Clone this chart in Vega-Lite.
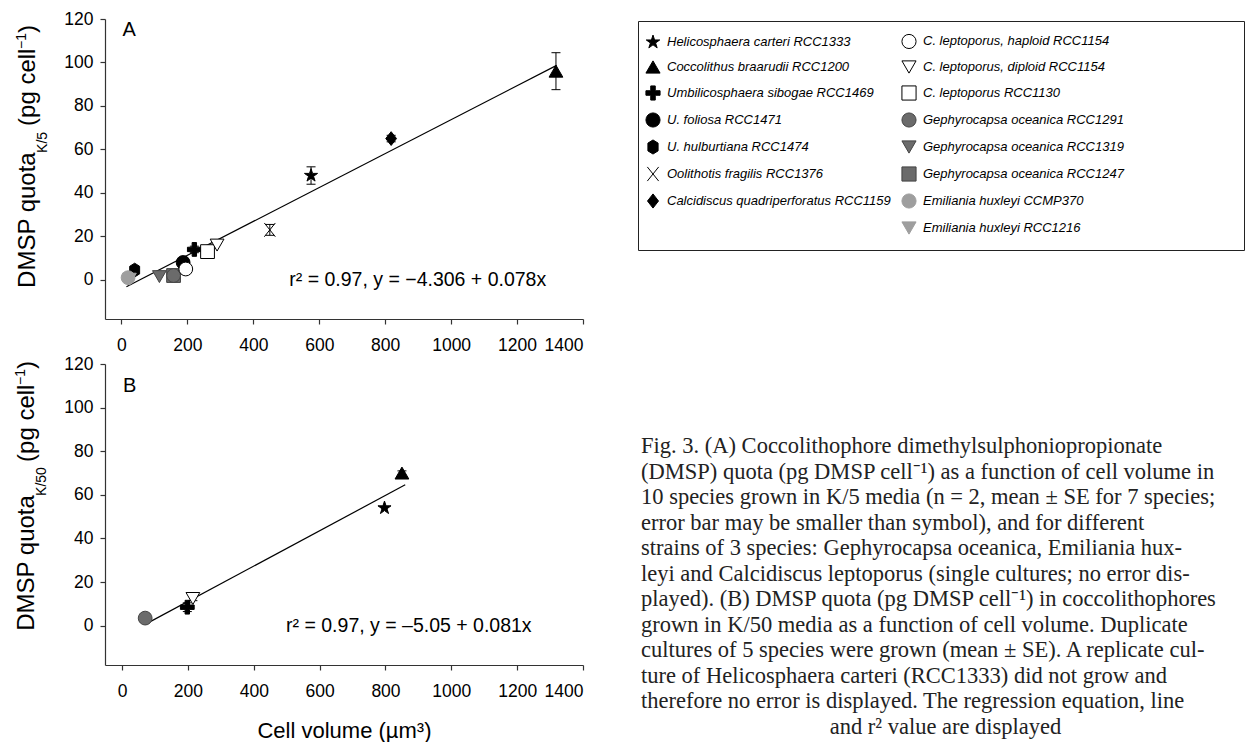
{
  "$schema": "https://vega.github.io/schema/vega-lite/v6.json",
  "background": "white",
  "padding": {"left": 14, "top": 10, "right": 0, "bottom": 0},
  "spacing": 1,
  "datasets": {
    "ptsA": [
      {"strain": "U. hulburtiana RCC1474", "volume": 40, "dmsp": 4.5},
      {"strain": "Emiliania huxleyi RCC1216", "volume": 24, "dmsp": 0.3},
      {"strain": "Emiliania huxleyi CCMP370", "volume": 20, "dmsp": 1},
      {"strain": "Gephyrocapsa oceanica RCC1247", "volume": 158, "dmsp": 2},
      {"strain": "Gephyrocapsa oceanica RCC1319", "volume": 115, "dmsp": 1.5},
      {"strain": "Gephyrocapsa oceanica RCC1291", "volume": 158, "dmsp": 2},
      {"strain": "U. foliosa RCC1471", "volume": 187, "dmsp": 8},
      {"strain": "C. leptoporus, haploid RCC1154", "volume": 195, "dmsp": 5},
      {"strain": "Umbilicosphaera sibogae RCC1469", "volume": 221, "dmsp": 14, "lo": 12.5, "hi": 15.5},
      {"strain": "C. leptoporus RCC1130", "volume": 261, "dmsp": 13},
      {"strain": "C. leptoporus, diploid RCC1154", "volume": 290, "dmsp": 16},
      {"strain": "Oolithotis fragilis RCC1376", "volume": 450, "dmsp": 23, "lo": 20.5, "hi": 25.5},
      {"strain": "Helicosphaera carteri RCC1333", "volume": 575, "dmsp": 48, "lo": 44, "hi": 52},
      {"strain": "Calcidiscus quadriperforatus RCC1159", "volume": 818, "dmsp": 65, "lo": 63.5, "hi": 66.5},
      {"strain": "Coccolithus braarudii RCC1200", "volume": 1318, "dmsp": 96, "lo": 87.5, "hi": 104.5}
    ],
    "ptsB": [
      {"strain": "Gephyrocapsa oceanica RCC1291", "volume": 70, "dmsp": 3.5},
      {"strain": "Umbilicosphaera sibogae RCC1469", "volume": 198, "dmsp": 8.5, "lo": 6.5, "hi": 10.5},
      {"strain": "C. leptoporus, diploid RCC1154", "volume": 215, "dmsp": 12.5, "lo": 11.5, "hi": 14},
      {"strain": "Helicosphaera carteri RCC1333", "volume": 797, "dmsp": 54},
      {"strain": "Coccolithus braarudii RCC1200", "volume": 850, "dmsp": 70, "lo": 69, "hi": 71}
    ],
    "fitA": [{"volume": 15, "dmsp": -3.136}, {"volume": 1320, "dmsp": 98.654}],
    "fitB": [{"volume": 70, "dmsp": 0.62}, {"volume": 860, "dmsp": 64.61}],
    "caption": [
      {"line": 1, "text": "Fig. 3. (A) Coccolithophore dimethylsulphoniopropionate"},
      {"line": 2, "text": "(DMSP) quota (pg DMSP cell⁻¹) as a function of cell volume in"},
      {"line": 3, "text": "10 species grown in K/5 media (n = 2, mean ± SE for 7 species;"},
      {"line": 4, "text": "error bar may be smaller than symbol), and for different"},
      {"line": 5, "text": "strains of 3 species: Gephyrocapsa oceanica, Emiliania hux-"},
      {"line": 6, "text": "leyi and Calcidiscus leptoporus (single cultures; no error dis-"},
      {"line": 7, "text": "played). (B) DMSP quota (pg DMSP cell⁻¹) in coccolithophores"},
      {"line": 8, "text": "grown in K/50 media as a function of cell volume. Duplicate"},
      {"line": 9, "text": "cultures of 5 species were grown (mean ± SE). A replicate cul-"},
      {"line": 10, "text": "ture of Helicosphaera carteri (RCC1333) did not grow and"},
      {"line": 11, "text": "therefore no error is displayed. The regression equation, line"},
      {"line": 12, "text": "and r² value are displayed"}
    ]
  },
  "vconcat": [
    {
      "width": 478,
      "height": 300,
      "layer": [
        {
          "data": {"name": "fitA"},
          "mark": {"type": "line", "color": "black", "strokeWidth": 1.2},
          "encoding": {
            "x": {"field": "volume", "type": "quantitative", "scale": {"domain": [-50, 1400], "nice": false, "zero": false},
                  "axis": {"values": [0, 200, 400, 600, 800, 1000, 1200, 1400], "format": "d", "title": null, "labelOverlap": false}},
            "y": {"field": "dmsp", "type": "quantitative", "scale": {"domain": [-18, 120], "nice": false, "zero": false},
                  "axis": {"values": [0, 20, 40, 60, 80, 100, 120], "title": null}}
          }
        },
        {
          "data": {"name": "ptsA"},
          "transform": [{"filter": "isValid(datum.lo)"}],
          "mark": {"type": "rule", "color": "black", "strokeWidth": 1},
          "encoding": {
            "x": {"field": "volume", "type": "quantitative"},
            "y": {"field": "lo", "type": "quantitative"},
            "y2": {"field": "hi"}
          }
        },
        {
          "data": {"name": "ptsA"},
          "transform": [{"filter": "isValid(datum.lo)"}],
          "mark": {"type": "tick", "orient": "horizontal", "size": 9, "thickness": 1, "color": "black", "opacity": 1},
          "encoding": {
            "x": {"field": "volume", "type": "quantitative"},
            "y": {"field": "hi", "type": "quantitative"}
          }
        },
        {
          "data": {"name": "ptsA"},
          "transform": [{"filter": "isValid(datum.lo)"}],
          "mark": {"type": "tick", "orient": "horizontal", "size": 9, "thickness": 1, "color": "black", "opacity": 1},
          "encoding": {
            "x": {"field": "volume", "type": "quantitative"},
            "y": {"field": "lo", "type": "quantitative"}
          }
        },
        {
          "data": {"name": "ptsA"},
          "mark": {"type": "point", "opacity": 1, "fillOpacity": 1, "strokeWidth": 1, "size": 190},
          "encoding": {
            "x": {"field": "volume", "type": "quantitative"},
            "y": {"field": "dmsp", "type": "quantitative"},
            "shape": {"field": "strain", "type": "nominal",
              "scale": {
                "domain": ["Helicosphaera carteri RCC1333", "Coccolithus braarudii RCC1200", "Umbilicosphaera sibogae RCC1469", "U. foliosa RCC1471", "U. hulburtiana RCC1474", "Oolithotis fragilis RCC1376", "Calcidiscus quadriperforatus RCC1159", " ", "C. leptoporus, haploid RCC1154", "C. leptoporus, diploid RCC1154", "C. leptoporus RCC1130", "Gephyrocapsa oceanica RCC1291", "Gephyrocapsa oceanica RCC1319", "Gephyrocapsa oceanica RCC1247", "Emiliania huxleyi CCMP370", "Emiliania huxleyi RCC1216"],
                "range": ["M0,-1L0.2245,-0.309L0.951,-0.309L0.363,0.118L0.588,0.809L0,0.382L-0.588,0.809L-0.363,0.118L-0.951,-0.309L-0.2245,-0.309Z", "triangle-up", "M-0.32,-1H0.32V-0.32H1V0.32H0.32V1H-0.32V0.32H-1V-0.32H-0.32Z", "circle", "M0,-1L0.72,-0.55L0.72,0.55L0,1L-0.72,0.55L-0.72,-0.55Z", "M-0.8,-1L0.8,1M-0.8,1L0.8,-1", "M0,-1L0.78,0L0,1L-0.78,0Z", "circle", "circle", "triangle-down", "square", "circle", "triangle-down", "square", "circle", "triangle-down"]
              },
              "legend": {"orient": "none", "legendX": 533, "legendY": 2, "columns": 2, "title": " ", "titleOrient": "right", "titlePadding": 108, "titleFontSize": 4,
                "labelFont": "Liberation Sans", "labelFontSize": 13, "labelFontStyle": "italic", "labelColor": "black",
                "symbolSize": 200, "symbolStrokeWidth": 1, "symbolOpacity": 1, "symbolOffset": -5, "rowPadding": 7, "columnPadding": 8,
                "padding": 12, "strokeColor": "#222", "labelOffset": 6, "labelLimit": 400}
            },
            "fill": {"field": "strain", "type": "nominal",
              "scale": {
                "domain": ["Helicosphaera carteri RCC1333", "Coccolithus braarudii RCC1200", "Umbilicosphaera sibogae RCC1469", "U. foliosa RCC1471", "U. hulburtiana RCC1474", "Oolithotis fragilis RCC1376", "Calcidiscus quadriperforatus RCC1159", " ", "C. leptoporus, haploid RCC1154", "C. leptoporus, diploid RCC1154", "C. leptoporus RCC1130", "Gephyrocapsa oceanica RCC1291", "Gephyrocapsa oceanica RCC1319", "Gephyrocapsa oceanica RCC1247", "Emiliania huxleyi CCMP370", "Emiliania huxleyi RCC1216"],
                "range": ["black", "black", "black", "black", "black", "transparent", "black", "transparent", "white", "white", "white", "#6b6b6b", "#6b6b6b", "#6b6b6b", "#9e9e9e", "#9e9e9e"]
              }
            },
            "stroke": {"field": "strain", "type": "nominal",
              "scale": {
                "domain": ["Helicosphaera carteri RCC1333", "Coccolithus braarudii RCC1200", "Umbilicosphaera sibogae RCC1469", "U. foliosa RCC1471", "U. hulburtiana RCC1474", "Oolithotis fragilis RCC1376", "Calcidiscus quadriperforatus RCC1159", " ", "C. leptoporus, haploid RCC1154", "C. leptoporus, diploid RCC1154", "C. leptoporus RCC1130", "Gephyrocapsa oceanica RCC1291", "Gephyrocapsa oceanica RCC1319", "Gephyrocapsa oceanica RCC1247", "Emiliania huxleyi CCMP370", "Emiliania huxleyi RCC1216"],
                "range": ["black", "black", "black", "black", "black", "black", "black", "transparent", "black", "black", "black", "#444444", "#444444", "#444444", "#9e9e9e", "#9e9e9e"]
              }
            }
          }
        },
        {
          "data": {"values": [{"volume": 3, "dmsp": 115, "t": "A"}]},
          "mark": {"type": "text", "align": "left", "baseline": "middle", "fontSize": 20, "font": "Liberation Sans"},
          "encoding": {"x": {"field": "volume", "type": "quantitative"}, "y": {"field": "dmsp", "type": "quantitative"}, "text": {"field": "t"}}
        },
        {
          "data": {"values": [{"volume": 509, "dmsp": 0, "t": "r² = 0.97, y = −4.306 + 0.078x"}]},
          "mark": {"type": "text", "align": "left", "baseline": "middle", "fontSize": 19.5, "font": "Liberation Sans"},
          "encoding": {"x": {"field": "volume", "type": "quantitative"}, "y": {"field": "dmsp", "type": "quantitative"}, "text": {"field": "t"}}
        },
        {
          "data": {"values": [{"volume": -262, "dmsp": -3.7, "t": "DMSP quota"}, {"volume": -262, "dmsp": 70.8, "t": "(pg cell"}, {"volume": -262, "dmsp": 113.6, "t": ")"}]},
          "mark": {"type": "text", "align": "left", "baseline": "alphabetic", "angle": 270, "fontSize": 24, "font": "Liberation Sans"},
          "encoding": {"x": {"field": "volume", "type": "quantitative"}, "y": {"field": "dmsp", "type": "quantitative"}, "text": {"field": "t"}}
        },
        {
          "data": {"values": [{"volume": -226, "dmsp": 58.4, "t": "K/5"}, {"volume": -290, "dmsp": 106.2, "t": "−1"}]},
          "mark": {"type": "text", "align": "left", "baseline": "alphabetic", "angle": 270, "fontSize": 14, "font": "Liberation Sans"},
          "encoding": {"x": {"field": "volume", "type": "quantitative"}, "y": {"field": "dmsp", "type": "quantitative"}, "text": {"field": "t"}}
        }
      ]
    },
    {
      "spacing": 57,
      "hconcat": [
        {
          "width": 478,
          "height": 301,
          "layer": [
            {
              "data": {"name": "fitB"},
              "mark": {"type": "line", "color": "black", "strokeWidth": 1.2},
              "encoding": {
                "x": {"field": "volume", "type": "quantitative", "scale": {"domain": [-52, 1400], "nice": false, "zero": false},
                      "axis": {"values": [0, 200, 400, 600, 800, 1000, 1200, 1400], "format": "d", "title": "Cell volume (µm³)", "labelOverlap": false, "titlePadding": 21}},
                "y": {"field": "dmsp", "type": "quantitative", "scale": {"domain": [-18, 120], "nice": false, "zero": false},
                      "axis": {"values": [0, 20, 40, 60, 80, 100, 120], "title": null}}
              }
            },
            {
              "data": {"name": "ptsB"},
              "transform": [{"filter": "isValid(datum.lo)"}],
              "mark": {"type": "rule", "color": "black", "strokeWidth": 1},
              "encoding": {
                "x": {"field": "volume", "type": "quantitative"},
                "y": {"field": "lo", "type": "quantitative"},
                "y2": {"field": "hi"}
              }
            },
            {
              "data": {"name": "ptsB"},
              "transform": [{"filter": "isValid(datum.lo)"}],
              "mark": {"type": "tick", "orient": "horizontal", "size": 9, "thickness": 1, "color": "black", "opacity": 1},
              "encoding": {
                "x": {"field": "volume", "type": "quantitative"},
                "y": {"field": "hi", "type": "quantitative"}
              }
            },
            {
              "data": {"name": "ptsB"},
              "transform": [{"filter": "isValid(datum.lo)"}],
              "mark": {"type": "tick", "orient": "horizontal", "size": 9, "thickness": 1, "color": "black", "opacity": 1},
              "encoding": {
                "x": {"field": "volume", "type": "quantitative"},
                "y": {"field": "lo", "type": "quantitative"}
              }
            },
            {
              "data": {"name": "ptsB"},
              "mark": {"type": "point", "opacity": 1, "fillOpacity": 1, "strokeWidth": 1, "size": 190},
              "encoding": {
                "x": {"field": "volume", "type": "quantitative"},
                "y": {"field": "dmsp", "type": "quantitative"},
                "shape": {"field": "strain", "type": "nominal"},
                "fill": {"field": "strain", "type": "nominal"},
                "stroke": {"field": "strain", "type": "nominal"}
              }
            },
            {
              "data": {"values": [{"volume": 3, "dmsp": 110, "t": "B"}]},
              "mark": {"type": "text", "align": "left", "baseline": "middle", "fontSize": 20, "font": "Liberation Sans"},
              "encoding": {"x": {"field": "volume", "type": "quantitative"}, "y": {"field": "dmsp", "type": "quantitative"}, "text": {"field": "t"}}
            },
            {
              "data": {"values": [{"volume": 498, "dmsp": 0, "t": "r² = 0.97, y = –5.05 + 0.081x"}]},
              "mark": {"type": "text", "align": "left", "baseline": "middle", "fontSize": 19.5, "font": "Liberation Sans"},
              "encoding": {"x": {"field": "volume", "type": "quantitative"}, "y": {"field": "dmsp", "type": "quantitative"}, "text": {"field": "t"}}
            },
            {
              "data": {"values": [{"volume": -268, "dmsp": -2.3, "t": "DMSP quota"}, {"volume": -268, "dmsp": 75.1, "t": "(pg cell"}, {"volume": -268, "dmsp": 117.7, "t": ")"}]},
              "mark": {"type": "text", "align": "left", "baseline": "alphabetic", "angle": 270, "fontSize": 24, "font": "Liberation Sans"},
              "encoding": {"x": {"field": "volume", "type": "quantitative"}, "y": {"field": "dmsp", "type": "quantitative"}, "text": {"field": "t"}}
            },
            {
              "data": {"values": [{"volume": -231, "dmsp": 59.5, "t": "K/50"}, {"volume": -295, "dmsp": 110.4, "t": "−1"}]},
              "mark": {"type": "text", "align": "left", "baseline": "alphabetic", "angle": 270, "fontSize": 14, "font": "Liberation Sans"},
              "encoding": {"x": {"field": "volume", "type": "quantitative"}, "y": {"field": "dmsp", "type": "quantitative"}, "text": {"field": "t"}}
            }
          ]
        },
        {
          "width": 609,
          "height": 370,
          "data": {"name": "caption"},
          "layer": [
            {
              "transform": [{"filter": "datum.line < 12"}],
              "mark": {"type": "text", "align": "left", "baseline": "middle", "font": "Liberation Serif", "fontSize": 22.5, "color": "#222"},
              "encoding": {
                "x": {"datum": 0, "type": "quantitative", "scale": {"domain": [0, 1], "nice": false, "zero": false}, "axis": null},
                "y": {"field": "line", "type": "quantitative", "scale": {"domain": [-2.216, 12.294], "reverse": true, "nice": false, "zero": false}, "axis": null},
                "text": {"field": "text"}
              }
            },
            {
              "transform": [{"filter": "datum.line == 12"}],
              "mark": {"type": "text", "align": "center", "baseline": "middle", "font": "Liberation Serif", "fontSize": 22.5, "color": "#222"},
              "encoding": {
                "x": {"datum": 0.5, "type": "quantitative"},
                "y": {"field": "line", "type": "quantitative"},
                "text": {"field": "text"}
              }
            }
          ]
        }
      ]
    }
  ],
  "config": {
    "view": {"stroke": null},
    "font": "Liberation Sans",
    "axis": {
      "labelFont": "Liberation Sans", "labelFontSize": 17.5, "labelColor": "black",
      "titleFont": "Liberation Sans", "titleFontSize": 22, "titleFontWeight": "normal", "titleColor": "black",
      "domainColor": "#333", "tickColor": "#333", "tickSize": 5, "grid": false, "domainWidth": 1.2, "tickWidth": 1.2
    },
    "axisX": {"labelPadding": 12},
    "axisY": {"labelPadding": 7}
  }
}
